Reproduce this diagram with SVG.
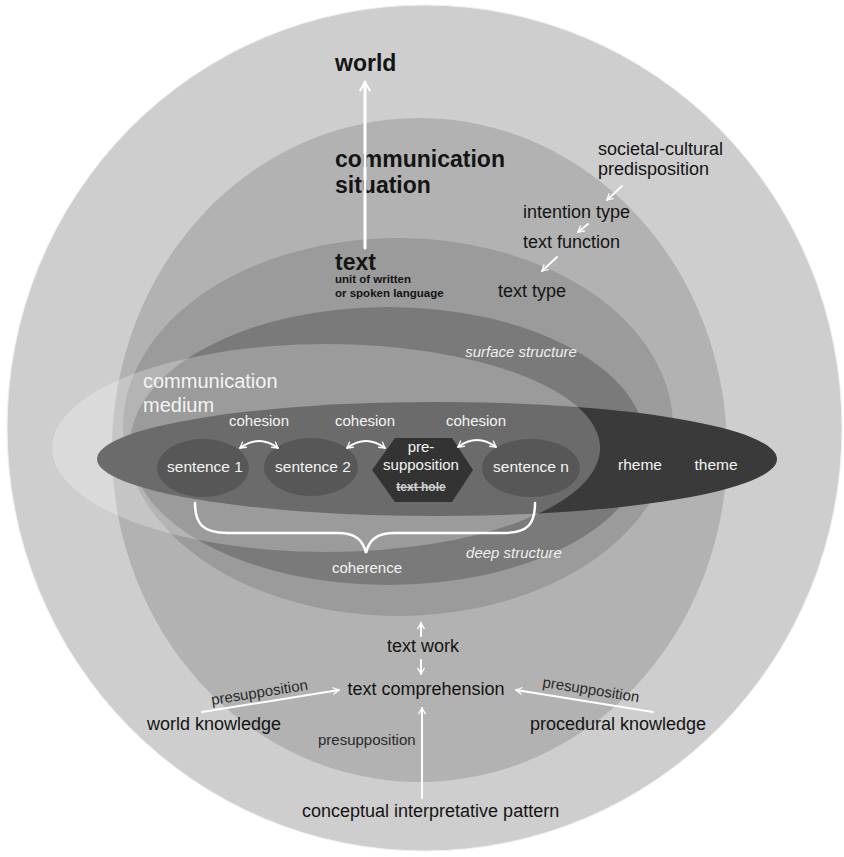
<svg xmlns="http://www.w3.org/2000/svg" width="844" height="857" viewBox="0 0 844 857">
<style>
text{font-family:"Liberation Sans",Arial,Helvetica,sans-serif}
.dk{fill:#141414}
.wt{fill:#f4f4f4}
.b{font-weight:bold}
.big{font-size:23px;font-weight:bold}
.m18{font-size:18px}
.m15{font-size:15px}
.s15{font-size:15.5px}
.it{font-style:italic;font-size:15px;fill:#efefef}
.conn{fill:none;stroke:#fff;stroke-width:2;stroke-linecap:round}
</style>
<defs>
<marker id="ah" viewBox="0 0 10 10" refX="8.5" refY="5" markerWidth="4" markerHeight="4" orient="auto-start-reverse" markerUnits="strokeWidth">
<path d="M1.5,1 L8.5,5 L1.5,9" fill="none" stroke="#fff" stroke-width="1.6" stroke-linecap="round" stroke-linejoin="round"/>
</marker>
</defs>
<rect width="844" height="857" fill="#fff"/>
<g id="world">
<ellipse cx="424.5" cy="428" rx="417.5" ry="423" fill="#cecece" stroke="#f0f0f0" stroke-width="1"/>
<text x="335" y="71" class="dk big">world</text>
</g>
<g id="communication-situation">
<ellipse cx="419.5" cy="450" rx="307.5" ry="332" fill="#b2b2b2"/>
<text x="335" y="167" class="dk big">communication</text>
<text x="335" y="193" class="dk big">situation</text>
</g>
<g id="text">
<ellipse cx="398" cy="427" rx="275" ry="189" fill="#9b9b9b"/>
<text x="335" y="270" class="dk big">text</text>
<text x="335" y="283" class="dk b" style="font-size:11.5px">unit of written</text>
<text x="335" y="297" class="dk b" style="font-size:11.5px">or spoken language</text>
</g>
<g id="surface-structure">
<ellipse cx="388" cy="446" rx="258" ry="139" fill="#7a7a7a"/>
<text x="521" y="357" class="it" text-anchor="middle">surface structure</text>
<text x="514" y="558" class="it" text-anchor="middle">deep structure</text>
</g>
<g id="rheme-theme">
<ellipse cx="437" cy="459" rx="340" ry="57" fill="#3a3a3a"/>
<text x="640" y="470" class="wt" style="font-size:15.5px" text-anchor="middle">rheme</text>
<text x="716" y="470" class="wt" style="font-size:15.5px" text-anchor="middle">theme</text>
</g>
<g id="communication-medium">
<ellipse cx="326" cy="448" rx="274" ry="104" fill="#fff" fill-opacity="0.25"/>
<text x="143" y="388" class="wt" style="font-size:20px">communication</text>
<text x="143" y="412" class="wt" style="font-size:20px">medium</text>
</g>
<g id="sentence-1">
<ellipse cx="203" cy="468" rx="46" ry="29" fill="#575757"/>
<text x="205" y="472" class="wt s15" text-anchor="middle">sentence 1</text>
</g>
<g id="sentence-2">
<ellipse cx="311" cy="467" rx="47" ry="29" fill="#575757"/>
<text x="313" y="472" class="wt s15" text-anchor="middle">sentence 2</text>
</g>
<g id="presupposition-hole">
<polygon points="372,470 395,438 452,438 473,470 452,502 395,502" fill="#333"/>
<text x="421" y="452" class="wt m15" text-anchor="middle">pre-</text>
<text x="421" y="470" class="wt m15" text-anchor="middle">supposition</text>
<text x="421" y="491" class="b" style="font-size:12px;fill:#d0d0d0;text-decoration:line-through" text-anchor="middle">text hole</text>
</g>
<g id="sentence-n">
<ellipse cx="531" cy="468" rx="49" ry="29" fill="#575757"/>
<text x="531" y="472" class="wt s15" text-anchor="middle">sentence n</text>
</g>
<g id="cohesion-labels">
<text x="259" y="426" class="wt m15" text-anchor="middle">cohesion</text>
<text x="365" y="426" class="wt m15" text-anchor="middle">cohesion</text>
<text x="476" y="426" class="wt m15" text-anchor="middle">cohesion</text>
</g>
<g id="coherence">
<path d="M195,503 C195,524 203,533 228,533 L337,533 C356,533 363,540 366,553 C369,540 376,533 395,533 L503,533 C528,533 535,524 535,503" fill="none" stroke="#fff" stroke-width="2.5" stroke-linecap="round"/>
<text x="367" y="573" class="wt m15" text-anchor="middle">coherence</text>
</g>
<g id="predisposition-chain">
<text x="598" y="155" class="dk m18">societal-cultural</text>
<text x="598" y="175" class="dk m18">predisposition</text>
<text x="523" y="218" class="dk m18">intention type</text>
<text x="523" y="248" class="dk m18">text function</text>
<text x="498" y="297" class="dk m18">text type</text>
</g>
<g id="text-work">
<text x="423" y="652" class="dk m18" text-anchor="middle">text work</text>
</g>
<g id="text-comprehension">
<text x="426" y="695" class="dk m18" text-anchor="middle">text comprehension</text>
</g>
<g id="world-knowledge">
<text x="147" y="730" class="dk m18">world knowledge</text>
</g>
<g id="procedural-knowledge">
<text x="530" y="730" class="dk m18">procedural knowledge</text>
</g>
<g id="conceptual-pattern">
<text x="302" y="817" class="dk m18">conceptual interpretative pattern</text>
</g>
<g id="connectors">
<path d="M365,248 L365,82" class="conn" style="stroke-width:3" marker-end="url(#ah)"/>
<path d="M622,186 L607,200" class="conn" marker-end="url(#ah)"/>
<path d="M588,224 L578,232" class="conn" marker-end="url(#ah)"/>
<path d="M557,257 L542,271" class="conn" marker-end="url(#ah)"/>
<path d="M240,448 Q259,434 278,448" class="conn" marker-start="url(#ah)" marker-end="url(#ah)"/>
<path d="M347,448 Q366,434 385,448" class="conn" marker-start="url(#ah)" marker-end="url(#ah)"/>
<path d="M458,447 Q477,433 496,447" class="conn" marker-start="url(#ah)" marker-end="url(#ah)"/>
<path d="M421,636 L421,623" class="conn" marker-end="url(#ah)"/>
<path d="M421,660 L421,674" class="conn" marker-end="url(#ah)"/>
<path d="M202,712 L339,690" class="conn" marker-end="url(#ah)"/>
<path d="M653,712 L516,690" class="conn" marker-end="url(#ah)"/>
<path d="M422,798 L422,708" class="conn" marker-end="url(#ah)"/>
<text transform="translate(212,705) rotate(-9)" class="m15" style="fill:#2a2a2a">presupposition</text>
<text transform="translate(542,687) rotate(9)" class="m15" style="fill:#2a2a2a">presupposition</text>
<text x="318" y="745" class="m15" style="fill:#2a2a2a">presupposition</text>
</g>
</svg>
